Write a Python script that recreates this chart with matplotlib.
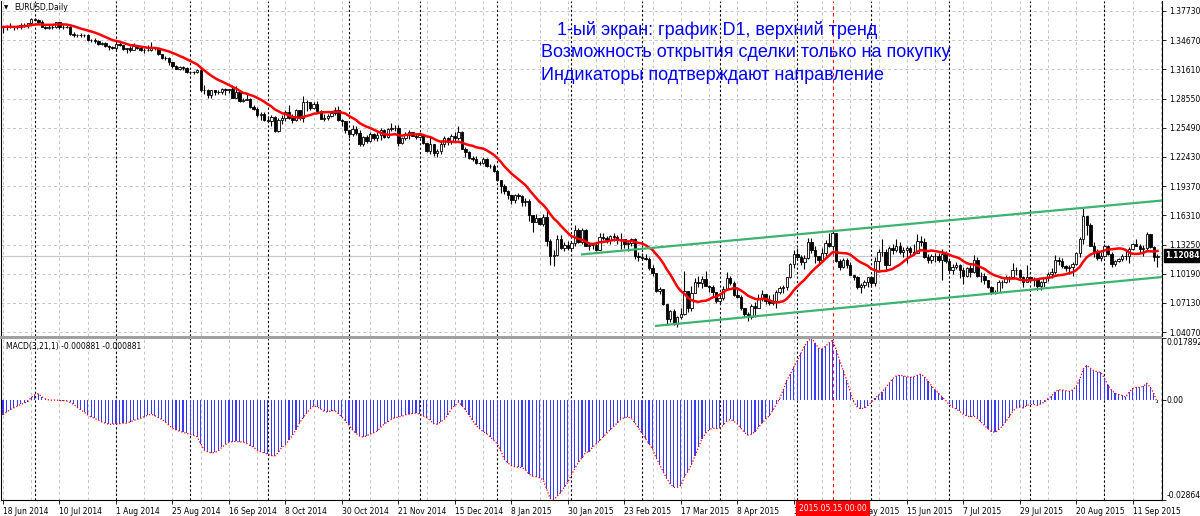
import numpy as np
import pandas as pd
import matplotlib
matplotlib.use('Agg')
import matplotlib.pyplot as plt
from matplotlib.patches import Rectangle
from matplotlib.transforms import blended_transform_factory

# EURUSD daily, 18 Jun 2014 .. 22 Sep 2015, prices in 1e-4 (pips)
close_pips = [
    13605, 13610, 13605, 13600, 13610, 13630, 13630, 13645, 13690,
    13680, 13655, 13610, 13590, 13610, 13610, 13655, 13610, 13605, 13610, 13530, 13525, 13525, 13520,
    13525, 13465, 13465, 13460, 13430, 13440, 13410, 13395, 13385,
    13425, 13415, 13375, 13380, 13365, 13410, 13380, 13365, 13365, 13365, 13400, 13380, 13320, 13280,
    13280, 13240, 13195, 13165, 13190, 13180, 13130,
    13130, 13130, 13150, 12945, 12950, 12890, 12940, 12925, 12920, 12960, 12945, 12955, 12860, 12920,
    12830, 12845, 12850, 12765, 12745, 12685, 12690, 12630,
    12620, 12665, 12515, 12635, 12650, 12715, 12655, 12630, 12735, 12655, 12815, 12815, 12760, 12800,
    12720, 12645, 12655, 12670, 12700, 12730, 12630, 12615, 12525,
    12485, 12540, 12490, 12375, 12450, 12410, 12485, 12440, 12475, 12525, 12450, 12535, 12545, 12545,
    12390, 12440, 12470, 12505, 12465, 12450,
    12470, 12385, 12310, 12375, 12285, 12310, 12380, 12445, 12400, 12465, 12440, 12505, 12330, 12295,
    12230, 12225, 12175, 12180, 12225, 12150, 12150, 12100,
    12005, 11935, 11890, 11840, 11795, 11840, 11830, 11770, 11785, 11630, 11565, 11605, 11545, 11610,
    11365, 11205, 11215, 11380, 11290, 11320, 11290,
    11345, 11475, 11350, 11480, 11315, 11325, 11320, 11270, 11400, 11395, 11370, 11410, 11400, 11375,
    11385, 11330, 11340, 11385, 11200, 11195,
    11185, 11175, 11075, 11030, 10840, 10855, 10700, 10550, 10630, 10495, 10565, 10595, 10835, 10660,
    10820, 10935, 10925, 10965, 10890, 10885, 10825, 10730,
    10765, 10855, 10970, 10925, 10800, 10780, 10660, 10600, 10570, 10685, 10665, 10760, 10805, 10735,
    10715, 10730, 10825, 10870, 10875, 10985, 11125, 11225,
    11195, 11145, 11185, 11350, 11265, 11200, 11160, 11240, 11345, 11310, 11445, 11155, 11095, 11160,
    11110, 11010, 10985, 10875, 10900, 10935, 10985,
    10925, 11150, 11245, 11245, 11110, 11285, 11265, 11315, 11250, 11265, 11285, 11245, 11240, 11360,
    11350, 11195, 11160, 11200, 11210, 11165, 11230, 11150,
    11055, 11085, 11110, 11055, 10995, 11080, 11040, 11160, 11000, 11000, 10950, 10880, 10830, 10830,
    10935, 10930, 10985, 10985, 11060, 11060, 10985, 10935, 10985,
    10955, 10960, 10890, 10930, 10970, 11015, 11040, 11165, 11150, 11105, 11080, 11085, 11120, 11240,
    11385, 11620, 11525, 11315, 11245, 11180, 11210,
    11310, 11230, 11120, 11150, 11170, 11205, 11210, 11275, 11335, 11315, 11275, 11285, 11435, 11300,
    11195, 11208.4,
]
high_pips = [
    13615, 13625, 13645, 13620, 13625, 13645, 13650, 13650, 13700,
    13700, 13690, 13675, 13615, 13625, 13640, 13660, 13650, 13625, 13630, 13620, 13550, 13535, 13540,
    13535, 13530, 13480, 13490, 13470, 13445, 13445, 13420, 13405,
    13445, 13445, 13420, 13385, 13405, 13435, 13420, 13390, 13385, 13415, 13445, 13400, 13385, 13320,
    13300, 13290, 13220, 13205, 13200, 13195, 13190,
    13145, 13145, 13165, 13175, 12995, 12955, 12945, 12945, 12945, 12970, 12965, 12960, 12995, 12990,
    12925, 12865, 12905, 12860, 12785, 12765, 12710, 12710,
    12670, 12685, 12675, 12650, 12680, 12730, 12790, 12690, 12750, 12740, 12885, 12835, 12820, 12815,
    12830, 12735, 12695, 12690, 12720, 12765, 12775, 12640, 12625,
    12530, 12580, 12570, 12530, 12460, 12470, 12500, 12495, 12505, 12545, 12535, 12545, 12600, 12575,
    12580, 12455, 12500, 12530, 12505, 12480,
    12505, 12470, 12390, 12455, 12380, 12330, 12425, 12460, 12455, 12480, 12505, 12570, 12510, 12350,
    12305, 12255, 12250, 12200, 12240, 12235, 12165, 12165,
    12095, 11975, 11960, 11900, 11845, 11860, 11870, 11840, 11810, 11805, 11615, 11645, 11600, 11650,
    11680, 11380, 11265, 11425, 11425, 11350, 11365,
    11355, 11535, 11500, 11495, 11490, 11350, 11345, 11340, 11445, 11450, 11410, 11430, 11445, 11425,
    11450, 11380, 11370, 11395, 11390, 11245,
    11235, 11225, 11190, 11115, 11030, 10880, 10860, 10705, 10635, 10645, 10575, 10655, 11045, 10830,
    10890, 10975, 11000, 10995, 11050, 10900, 10905, 10825,
    10810, 10895, 11035, 11000, 10945, 10870, 10800, 10665, 10615, 10700, 10720, 10805, 10850, 10805,
    10800, 10810, 10850, 10895, 10900, 10990, 11135, 11265,
    11290, 11220, 11215, 11390, 11390, 11305, 11210, 11290, 11370, 11445, 11465, 11450, 11170, 11185,
    11180, 11140, 11010, 10995, 10925, 10955, 10990,
    11000, 11195, 11275, 11385, 11275, 11310, 11335, 11385, 11355, 11300, 11305, 11305, 11330, 11435,
    11410, 11395, 11225, 11225, 11240, 11235, 11280, 11255,
    11160, 11120, 11140, 11120, 11090, 11095, 11110, 11215, 11195, 11035, 11025, 10955, 10890, 10850,
    10950, 10950, 11010, 11000, 11130, 11095, 11070, 11000, 11110,
    10990, 10980, 10965, 10940, 10985, 11040, 11075, 11215, 11195, 11185, 11115, 11110, 11145, 11245,
    11405, 11715, 11605, 11550, 11350, 11275, 11245,
    11330, 11320, 11245, 11165, 11185, 11230, 11265, 11295, 11345, 11385, 11330, 11325, 11460, 11440,
    11305, 11230,
]
low_pips = [
    13545, 13575, 13590, 13575, 13580, 13585, 13605, 13595, 13630,
    13665, 13640, 13600, 13580, 13580, 13585, 13595, 13585, 13585, 13595, 13525, 13505, 13495, 13500,
    13500, 13460, 13445, 13440, 13420, 13420, 13400, 13365, 13375,
    13365, 13410, 13365, 13330, 13345, 13365, 13370, 13355, 13335, 13355, 13355, 13360, 13315, 13265,
    13255, 13210, 13180, 13160, 13150, 13150, 13125,
    13110, 13110, 13120, 12920, 12900, 12860, 12860, 12890, 12900, 12905, 12895, 12915, 12860, 12860,
    12815, 12820, 12835, 12755, 12730, 12665, 12635, 12625,
    12615, 12570, 12500, 12505, 12585, 12625, 12640, 12600, 12625, 12630, 12605, 12725, 12740, 12745,
    12705, 12640, 12615, 12630, 12665, 12685, 12615, 12565, 12490,
    12440, 12460, 12470, 12355, 12355, 12390, 12400, 12420, 12410, 12420, 12445, 12440, 12510, 12510,
    12355, 12380, 12420, 12430, 12460, 12435,
    12440, 12375, 12295, 12270, 12250, 12245, 12270, 12350, 12370, 12380, 12410, 12420, 12325, 12245,
    12220, 12205, 12165, 12160, 12170, 12135, 12125, 12090,
    11995, 11865, 11860, 11800, 11755, 11760, 11800, 11730, 11730, 11570, 11460, 11560, 11530, 11520,
    11315, 11115, 11100, 11210, 11280, 11260, 11265,
    11270, 11315, 11345, 11335, 11310, 11270, 11275, 11260, 11265, 11375, 11345, 11330, 11365, 11335,
    11275, 11290, 11260, 11310, 11175, 11155,
    11165, 11160, 11060, 11000, 10825, 10805, 10690, 10495, 10510, 10485, 10460, 10540, 10590, 10615,
    10625, 10820, 10885, 10870, 10890, 10830, 10780, 10710,
    10710, 10740, 10850, 10900, 10790, 10760, 10640, 10565, 10520, 10540, 10570, 10660, 10735, 10705,
    10690, 10690, 10660, 10805, 10820, 10850, 10975, 11080,
    11160, 11110, 11065, 11170, 11240, 11130, 11115, 11140, 11205, 11300, 11270, 11145, 11060, 11075,
    11080, 11005, 10955, 10860, 10820, 10865, 10875,
    10885, 10890, 11055, 11210, 11050, 11110, 11225, 11250, 11230, 11190, 11135, 11210, 11215, 11240,
    11305, 11185, 11135, 11135, 11145, 11140, 10955, 11135,
    11035, 11020, 11065, 10970, 10915, 10985, 10985, 11025, 10985, 10930, 10915, 10865, 10810, 10810,
    10825, 10870, 10920, 10935, 10975, 11010, 10950, 10880, 10930,
    10935, 10890, 10850, 10850, 10875, 10945, 10970, 11015, 11110, 11080, 11050, 11015, 11000, 11110,
    11195, 11330, 11430, 11310, 11195, 11160, 11155,
    11190, 11220, 11085, 11100, 11140, 11155, 11160, 11135, 11265, 11305, 11240, 11210, 11260, 11285,
    11155, 11085,
]
# MACD(3,21,1) main line, units of 1e-4
macd_e4 = [
    -42, -34, -27, -22, -17, -12, -8, -4, 8, 16, 19, 10, 4, 1, 0, 1, -1, -1, -2, -6,
    -12, -20, -27, -34, -42, -48, -52, -57, -62, -66, -69, -69, -68, -67, -66, -66, -62, -58, -55, -52,
    -47, -43, -40, -44, -50, -55, -62, -72, -80, -85, -89, -92, -95, -98, -101, -105, -125, -143, -148, -151,
    -150, -145, -135, -127, -121, -119, -118, -119, -120, -124, -130, -135, -143, -148, -151, -155, -159, -160, -150, -135,
    -127, -115, -100, -85, -65, -50, -37, -25, -16, -19, -25, -32, -34, -30, -30, -38, -48, -60, -72, -85,
    -95, -103, -106, -102, -97, -94, -88, -78, -68, -62, -55, -50, -48, -46, -42, -40, -38, -37, -40, -45,
    -50, -58, -67, -69, -62, -55, -42, -25, -15, -5, -15, -28, -42, -58, -72, -82, -90, -96, -105, -115,
    -125, -145, -170, -180, -188, -191, -192, -193, -200, -212, -218, -220, -223, -228, -255, -282, -286, -275, -265, -250,
    -235, -215, -195, -178, -165, -150, -148, -135, -125, -117, -105, -95, -85, -75, -65, -55, -50, -48, -52, -65,
    -80, -95, -110, -125, -140, -165, -185, -205, -225, -240, -250, -250, -245, -220, -205, -185, -160, -135, -110, -95,
    -85, -80, -82, -80, -72, -60, -55, -60, -68, -80, -92, -100, -98, -90, -78, -65, -55, -45, -30, -12,
    5, 29, 57, 75, 95, 115, 135, 155, 170, 179, 165, 150, 148, 155, 165, 172, 145, 115, 86, 57,
    25, -5, -20, -25, -22, -15, -5, 6, 15, 25, 35, 49, 62, 70, 72, 70, 68, 66, 68, 72,
    75, 68, 55, 42, 30, 20, 10, 0, -12, -20, -25, -32, -40, -45, -48, -45, -52, -62, -72, -82,
    -90, -92, -85, -75, -62, -48, -32, -22, -20, -22, -15, -12, -12, -15, -10, -5, 5, 12, 25, 30,
    30, 28, 26, 30, 40, 60, 90, 100, 92, 85, 82, 80, 63, 43, 29, 20, 17, 14, 9, 24,
    34, 37, 37, 40, 49, 37, 20, -9,
]

date_labels = ["18 Jun 2014", "10 Jul 2014", "1 Aug 2014", "25 Aug 2014", "16 Sep 2014",
               "8 Oct 2014", "30 Oct 2014", "21 Nov 2014", "15 Dec 2014", "8 Jan 2015",
               "30 Jan 2015", "23 Feb 2015", "17 Mar 2015", "8 Apr 2015", "30 Apr 2015",
               "22 May 2015", "15 Jun 2015", "7 Jul 2015", "29 Jul 2015", "20 Aug 2015",
               "11 Sep 2015"]
label_step = 16
month_starts = [9, 32, 53, 75, 98, 118, 140, 161, 181, 203, 225, 246, 268, 291, 312]
price_levels = [1.04070, 1.07130, 1.10190, 1.13250, 1.16310, 1.19370,
                1.22430, 1.25490, 1.28550, 1.31610, 1.34670, 1.37730]
upper_line = [(164, 1.1222), (235, 1.1466)]
lower_line = [(185, 1.0473), (281, 1.0816)]
marked_bar = 235
marked_text = "2015.05.15 00:00"
last_price = 1.12084
ma_period = 13
macd_max, macd_min = 0.017892, -0.028646
notes = ["1-ый экран: график D1, верхний тренд",
         "Возможность открытия сделки только на покупку",
         "Индикаторы подтверждают направление"]

close = np.array(close_pips, dtype=float) / 1e4
high = np.array(high_pips, dtype=float) / 1e4
low = np.array(low_pips, dtype=float) / 1e4
macd = np.array(macd_e4, dtype=float) / 1e4
n = len(close)
assert len(high) == n and len(low) == n and len(macd) == n, (n, len(high), len(low), len(macd))
x = np.arange(n)
opn = np.r_[close[0], close[:-1]]
high = np.maximum(high, np.maximum(opn, close))
low = np.minimum(low, np.minimum(opn, close))
ma = pd.Series(close).rolling(ma_period, min_periods=1).mean().values

W, H = 1200, 516
fig = plt.figure(figsize=(W / 100, H / 100), dpi=100)


def px_axes(x0, y0, x1, y1):
    return fig.add_axes([x0 / W, 1 - y1 / H, (x1 - x0) / W, (y1 - y0) / H])


ax = px_axes(1, 1, 1162, 336)
axm = px_axes(1, 338, 1162, 500)
xlim = (-0.57, 328.3)
for a in (ax, axm):
    a.set_xlim(*xlim)
    for s in a.spines.values():
        s.set_linewidth(0.8)
    a.spines['top'].set_visible(False)
    # grid every 8 bars, month separators
    for i in range(0, n + 8, 8):
        a.axvline(i, color='#c4c4c4', lw=0.7, ls=(0, (3, 3)), zorder=0)
    for m in month_starts:
        a.axvline(m, color='black', lw=0.8, ls=(0, (2, 2)), zorder=0.5)
    a.axvline(marked_bar, color='red', lw=0.8, ls=(0, (3, 3)), zorder=0.6)

ax.spines['bottom'].set_visible(False)
ax.set_ylim(1.03667, 1.38775)
for p in price_levels:
    ax.axhline(p, color='#c4c4c4', lw=0.7, ls=(0, (3, 3)), zorder=0)
ax.axhline(last_price, color='#c8c8c8', lw=0.9, zorder=0.4)

# candles
bull = close >= opn
ax.vlines(x, low, high, color='black', lw=0.8, zorder=2)
ax.bar(x[bull], (close - opn)[bull], bottom=opn[bull], width=0.68,
       color='white', edgecolor='black', linewidth=0.6, zorder=3)
ax.bar(x[~bull], (opn - close)[~bull], bottom=close[~bull], width=0.68,
       color='black', edgecolor='black', linewidth=0.6, zorder=3)
ax.plot(x, ma, color='red', lw=1.8, zorder=4)

# trend channel
for (x0, y0), (x1, y1) in (upper_line, lower_line):
    k = (y1 - y0) / (x1 - x0)
    ax.plot([x0, xlim[1]], [y0, y0 + k * (xlim[1] - x0)], color='#3cb371', lw=1.6, zorder=5)

ax.yaxis.tick_right()
ax.set_yticks(price_levels)
ax.set_yticklabels(['%.5f' % p for p in price_levels])
ax.tick_params(axis='y', labelsize=5.5, length=3, pad=2, width=0.6)
ax.set_xticks([])
tr = blended_transform_factory(ax.transAxes, ax.transData)
ax.text(1.003, last_price, '%.5f' % last_price, transform=tr, color='white', fontsize=5.5,
        ha='left', va='center', fontweight='bold',
        bbox=dict(boxstyle='square,pad=0.25', fc='black', ec='black'), clip_on=False)

# MACD panel
axm.set_ylim(macd_min, macd_max)
axm.bar(x, macd, width=0.32, color='#3a3aff', zorder=2)
axm.plot(x, macd, color='red', lw=0.9, ls=(0, (1, 1.5)), zorder=3)
axm.yaxis.tick_right()
axm.set_yticks([macd_max, 0, macd_min])
axm.set_yticklabels([])
axm.tick_params(axis='y', length=3, width=0.6)
trm = blended_transform_factory(axm.transAxes, axm.transData)
axm.text(1.004, macd_max, '%.6f' % macd_max, transform=trm, fontsize=5.5, va='top', ha='left')
axm.text(1.004, 0, '0.00', transform=trm, fontsize=5.5, va='center', ha='left')
axm.text(1.004, macd_min, '%.6f' % macd_min, transform=trm, fontsize=5.5, va='bottom', ha='left')

axm.set_xticks(np.arange(len(date_labels)) * label_step)
axm.set_xticklabels(date_labels, ha='left', fontsize=5.5)
axm.tick_params(axis='x', length=3, pad=2, width=0.6)
trx = blended_transform_factory(axm.transData, axm.transAxes)
axm.text(marked_bar, -0.05, marked_text, transform=trx, color='white', fontsize=5.5,
         ha='center', va='center', zorder=10, clip_on=False,
         bbox=dict(boxstyle='square,pad=0.35', fc='#ff0000', ec='#ff0000'))

# panel separator
fig.patches.append(Rectangle((0, 1 - 338.5 / H), 1162 / W, 3 / H, transform=fig.transFigure,
                             fc='#a0a0a0', ec='none'))

fig.text(4 / W, 1 - 8 / H, '▼', fontsize=4, va='center', ha='left')
fig.text(14 / W, 1 - 8 / H, 'EURUSD,Daily', fontsize=5.5, va='center', ha='left')
fig.text(6 / W, 1 - 346 / H, 'MACD(3,21,1) -0.000881 -0.000881', fontsize=5.5, va='center', ha='left')

for (tx, ty), line in zip([(557, 30), (541, 52.5), (541, 75)], notes):
    fig.text(tx / W, 1 - ty / H, line, color='#0000ff', fontsize=13,
             family='Liberation Sans', va='center', ha='left')

fig.savefig('out.png', dpi=100)
